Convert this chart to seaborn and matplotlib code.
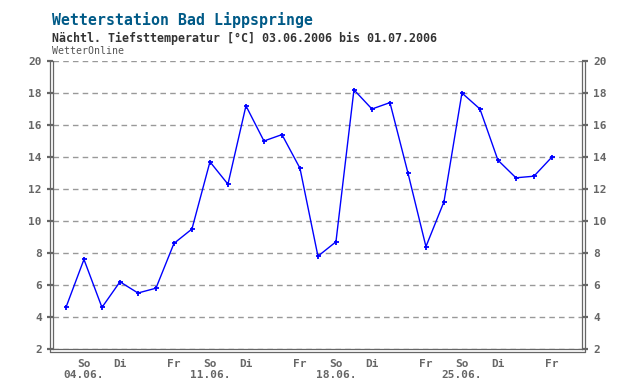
import numpy as np
import pandas as pd
import matplotlib
matplotlib.use("Agg")
import matplotlib.pyplot as plt
import matplotlib.dates as mdates
from matplotlib.lines import Line2D
import seaborn as sns

# =========================
# DATA
# =========================

dates = pd.date_range("2006-06-03", "2006-06-30", freq="D")
temps = [4.6, 7.6, 4.6, 6.2, 5.5, 5.8, 8.6, 9.5, 13.7, 12.3,
         17.2, 15.0, 15.4, 13.3, 7.8, 8.7, 18.2, 17.0, 17.4, 13.0,
         8.4, 11.2, 18.0, 17.0, 13.8, 12.7, 12.8, 14.0]
y_ticks = [2, 4, 6, 8, 10, 12, 14, 16, 18, 20]
day_names = {6: "So", 1: "Di", 4: "Fr"}  # weekday -> label

title = "Wetterstation Bad Lippspringe"
subtitle = "Nächtl. Tiefsttemperatur [°C] 03.06.2006 bis 01.07.2006"
source = "WetterOnline"

df = pd.DataFrame({"date": dates, "temp": temps})

# =========================
# STYLE
# =========================

sns.set_style("white")
plt.rcParams['font.family'] = ['DejaVu Sans Mono', 'DejaVu Sans']

grey = "#666666"
blue = "#0000ff"

fig = plt.figure(figsize=(6.4, 3.9), dpi=100)
ax = fig.add_axes([53 / 640, 1 - 349 / 390, 529 / 640, 288 / 390])

sns.lineplot(data=df, x="date", y="temp", ax=ax, color=blue,
             linewidth=1.0, marker="+", markersize=3.6, markeredgewidth=1.3,
             markeredgecolor=blue, markerfacecolor=blue)

# =========================
# AXES
# =========================

start = mdates.date2num(pd.Timestamp("2006-06-03"))
ax.set_xlim(start - 0.72, start + 28.67)
ax.set_ylim(2, 20)
ax.set_xlabel("")
ax.set_ylabel("")

ax.set_yticks(y_ticks)
ax.yaxis.grid(True, color="#999999", linestyle=(0, (4, 3)), linewidth=1.0)
ax.xaxis.grid(False)

all_days = pd.date_range("2006-06-03", "2006-07-01", freq="D")
sundays = [d for d in all_days if d.weekday() == 6]
others = [d for d in all_days if d.weekday() != 6]
ax.set_xticks(mdates.date2num(sundays))
ax.set_xticklabels(["So\n" + d.strftime("%d.%m.") for d in sundays])
ax.set_xticks(mdates.date2num(others), minor=True)
ax.set_xticklabels([day_names.get(d.weekday(), "") for d in others], minor=True)

ax.tick_params(axis="x", which="major", direction="out", length=5, width=1.6,
               color=grey, labelcolor=grey, labelsize=8, pad=2.5)
ax.tick_params(axis="x", which="minor", direction="out", length=3, width=0.8,
               color=grey, labelcolor=grey, labelsize=8, pad=4.5)
ax.tick_params(axis="y", which="major", direction="out", length=4.5, width=1.6,
               color=grey, labelcolor=grey, labelsize=8, pad=3.5,
               left=True, right=True, labelleft=True, labelright=True)
for lab in ax.get_xticklabels(which="both") + ax.get_yticklabels():
    lab.set_fontweight("bold")
for lab in ax.get_xticklabels():
    lab.set_linespacing(1.05)
for t in ax.yaxis.get_major_ticks():
    t.label2.set_fontweight("bold")
    t.label2.set_color(grey)

ax.spines["top"].set_visible(False)
for side in ["left", "right", "bottom"]:
    ax.spines[side].set_color(grey)
    ax.spines[side].set_linewidth(0.9)

# second line of the double frame, a few pixels outside the spines
px_w = 529.0
px_h = 288.0
dx = 2.6 / px_w
dy = 2.6 / px_h
ax.add_line(Line2D([-dx, -dx], [-dy, 1], transform=ax.transAxes,
                   color=grey, linewidth=0.9, clip_on=False))
ax.add_line(Line2D([1 + dx, 1 + dx], [-dy, 1], transform=ax.transAxes,
                   color=grey, linewidth=0.9, clip_on=False))
ax.add_line(Line2D([-dx, 1 + dx], [-dy, -dy], transform=ax.transAxes,
                   color=grey, linewidth=0.9, clip_on=False))

# =========================
# TITLES
# =========================

fig.text(52 / 640, 1 - 20 / 390, title, color="#005a87", fontsize=10.7,
         fontweight="bold", va="center", ha="left")
fig.text(52 / 640, 1 - 38 / 390, subtitle, color="#333333", fontsize=8.4,
         fontweight="bold", va="center", ha="left")
fig.text(52 / 640, 1 - 51.5 / 390, source, color="#555555", fontsize=7.1,
         va="center", ha="left")

fig.savefig("out.png", dpi=100, facecolor="white")
